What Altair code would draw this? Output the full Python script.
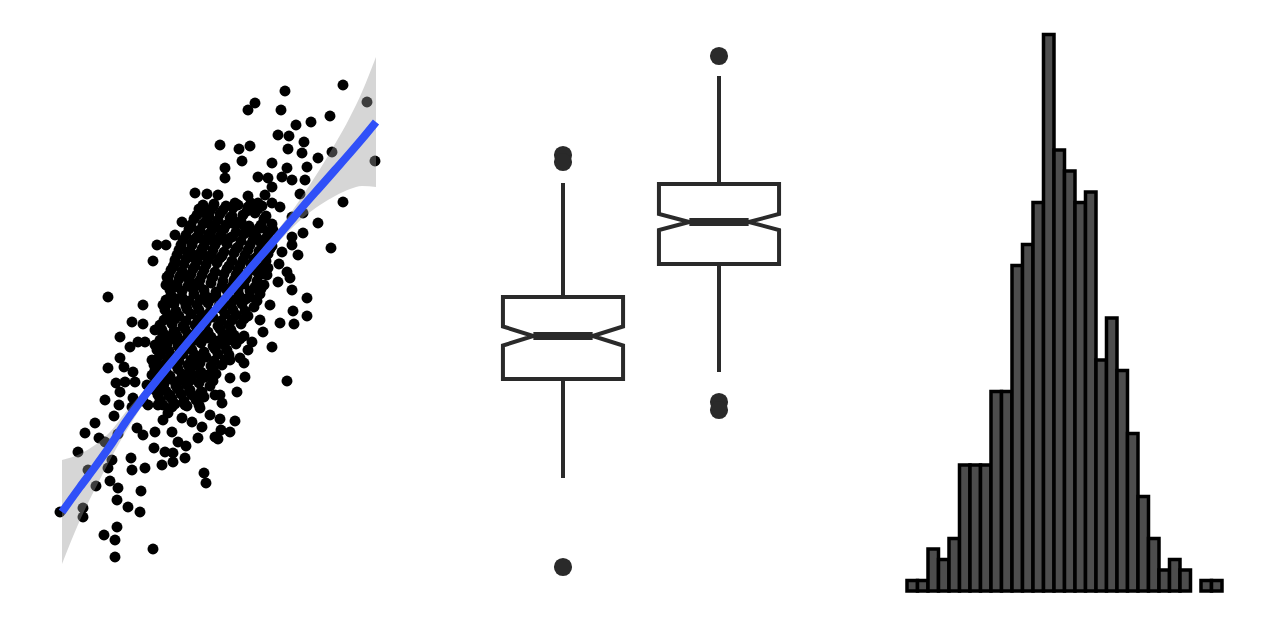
import altair as alt
import pandas as pd

# ---------------- Panel 1: scatter + smoother ----------------
scatter_points = [
    (28.3,51.5),(22.5,50.9),(30.7,49.8),(19.5,49.7),(18.8,49.0),(22.1,49.0),(27.0,48.4),(25.1,47.8),(23.6,47.5),(21.8,46.5),
    (22.9,46.4),(24.4,45.8),(16.0,45.5),(17.9,45.1),(19.0,45.4),(22.8,45.1),(24.2,44.7),(27.2,44.8),(31.5,43.9),(25.8,44.2),
    (18.2,43.9),(21.2,43.7),(16.5,43.2),(16.5,42.2),(22.7,43.2),(24.7,43.3),(19.8,42.3),(20.8,42.2),(22.2,42.3),(23.2,42.0),
    (24.5,42.0),(21.2,41.3),(20.5,40.5),(24.0,40.6),(15.8,40.5),(18.8,40.4),(17.5,39.7),(18.8,39.3),(21.2,39.7),(22.0,39.3),
    (19.8,39.7),(24.3,38.7),(25.8,37.7),(28.3,39.8),(23.2,38.3),(24.3,36.7),(17.2,37.7),(16.2,37.0),(18.5,37.3),(19.2,36.7),
    (20.2,37.2),(21.3,37.0),(23.2,36.3),(16.2,36.2),(13.5,40.7),(14.7,40.6),(14.2,38.8),(15.3,39.3),(12.2,37.8),(14.0,37.0),
    (11.5,36.5),(14.8,37.7),(27.1,35.2),(23.8,34.5),(22.7,32.8),(24.7,30.2),(23.3,28.9),(24.7,28.4),(23.2,31.0),(21.8,31.8),
    (22.0,27.7),(21.2,25.3),(20.3,26.8),(16.8,26.2),(18.8,25.0),(22.7,21.9),(18.5,22.3),(17.0,22.2),(17.0,24.0),(17.7,20.8),
    (16.0,20.5),(16.2,19.7),(16.0,18.1),(17.5,17.9),(16.1,17.0),(15.8,16.1),
    (3.5,17.7),(2.5,16.7),(5.4,18.4),(1.8,14.8),(4.5,15.8),(5.2,14.0),(2.8,13.0),(3.6,11.4),(2.3,9.2),(2.3,8.3),
    (0.0,8.8),(5.8,11.2),(5.7,10.0),(6.8,9.3),(8.0,8.8),(8.1,10.9),(7.1,14.2),(7.2,13.0),(8.5,13.2),(5.7,7.3),
    (4.4,6.5),(5.5,6.0),(5.5,4.3),(9.3,5.1),(7.7,17.2),(8.3,16.5),(9.5,16.8),(10.5,14.8),(11.3,14.7),(11.3,13.8),
    (10.2,13.5),(12.5,14.2),(14.4,12.7),(14.6,11.7),(10.3,18.0),(10.8,18.7),(12.2,18.2),(13.2,17.8),(14.2,17.3),(15.5,16.3),
    (13.8,16.2),(11.8,15.8),(11.2,16.8),(11.2,19.3),(8.8,19.5),(7.2,19.3),(17.0,16.8),
    (9.7,35.5),(9.3,33.9),(4.8,30.3),(8.3,29.5),(7.2,27.8),(8.3,27.6),(9.5,27.0),(10.5,29.3),(7.0,25.3),(7.8,25.8),
    (8.5,25.8),(6.0,24.2),(4.8,23.2),(7.3,22.8),(9.2,24.0),(5.6,21.7),(6.5,21.8),(7.5,21.8),(8.7,21.5),(7.3,20.2),
    (6.0,20.8),(11.3,33.3),(10.7,32.3),(11.5,31.3),(12.7,34.8),(13.2,35.5),(13.3,34.3),(14.3,34.5),(14.0,36.2),(15.2,36.2),
    (12.8,32.2),(12.5,29.8),(10.8,28.3),(11.5,26.8),(10.2,26.8),(10.2,25.2),(11.0,24.2),(9.8,23.3),(9.2,22.5),(10.5,22.5),
    (10.2,21.2),(11.5,21.8),(11.0,20.5),(12.8,22.2),(14.2,20.8),(13.5,23.5),(14.8,22.5),(15.5,20.5),
    (3.9,16.2),(5.8,16.6),(4.8,13.2),(5.0,11.9),(9.4,15.2),(12.6,15.4),(9.8,19.5),(12.5,19.5),(14.0,19.2),(15.0,18.5),
    (13.0,20.8),(6.0,26.3),(6.4,23.3),(4.5,20.0),(5.9,19.5),(8.3,19.9),(10.6,35.5),
    (23.2,35.5),(22.2,34.8),(21.9,33.6),(20.8,33.2),(20.2,32.6),(23.0,32.2),(23.4,27.6),(18.4,23.7),
    (21.0,29.5),(20.0,28.0),(19.2,25.8),(18.0,24.2),
    # dense core
    (14.3,39.5),(15.4,39.6),(16.6,39.4),(17.8,39.5),(19.1,39.7),(20.2,39.4),
    (13.7,38.5),(14.9,38.3),(16.0,38.6),(17.2,38.4),(18.3,38.5),(19.5,38.7),(20.6,38.4),
    (13.1,37.5),(14.3,37.6),(15.5,37.3),(16.6,37.5),(17.8,37.7),(18.9,37.4),(20.1,37.5),(21.2,37.6),
    (12.6,36.5),(13.7,36.3),(14.9,36.6),(16.1,36.5),(17.2,36.3),(18.4,36.6),(19.6,36.4),(20.8,36.5),
    (12.1,35.5),(13.2,35.7),(14.4,35.4),(15.5,35.5),(16.7,35.6),(17.8,35.3),(19.0,35.5),(20.1,35.7),(21.2,35.4),
    (11.7,34.5),(12.8,34.3),(13.9,34.6),(15.1,34.5),(16.2,34.4),(17.4,34.7),(18.5,34.5),(19.7,34.3),(20.8,34.6),
    (11.4,33.5),(12.4,33.6),(13.5,33.4),(14.6,33.5),(15.7,33.7),(16.9,33.4),(18.0,33.5),(19.1,33.6),(20.3,33.3),
    (10.9,32.5),(12.0,32.4),(13.1,32.6),(14.2,32.5),(15.3,32.3),(16.4,32.6),(17.6,32.5),(18.7,32.4),(19.8,32.7),(20.7,32.5),
    (10.6,31.5),(11.7,31.6),(12.8,31.4),(13.9,31.5),(15.1,31.7),(16.2,31.4),(17.3,31.5),(18.4,31.6),(19.5,31.3),(20.4,31.5),
    (11.1,30.5),(12.2,30.3),(13.4,30.6),(14.5,30.5),(15.6,30.4),(16.8,30.7),(17.9,30.5),(19.0,30.3),(20.0,30.6),
    (10.3,29.5),(11.4,29.6),(12.6,29.4),(13.7,29.5),(14.8,29.7),(15.9,29.4),(17.1,29.5),(18.2,29.6),(19.4,29.3),
    (10.8,28.5),(11.9,28.4),(13.1,28.6),(14.2,28.5),(15.3,28.3),(16.5,28.6),(17.6,28.5),(18.8,28.4),
    (10.0,27.5),(11.2,27.6),(12.3,27.4),(13.5,27.5),(14.6,27.7),(15.8,27.4),(16.9,27.5),(18.1,27.6),
    (10.5,26.5),(11.7,26.4),(12.8,26.6),(14.0,26.5),(15.1,26.3),(16.3,26.6),(17.4,26.5),(18.4,26.4),
    (9.5,25.5),(10.7,25.6),(11.8,25.4),(13.0,25.5),(14.1,25.7),(15.3,25.4),(16.4,25.5),(17.6,25.6),
    (10.0,24.5),(11.2,24.4),(12.3,24.6),(13.5,24.5),(14.6,24.3),(15.8,24.6),(16.9,24.5),
    (9.4,23.5),(10.5,23.6),(11.7,23.4),(12.8,23.5),(14.0,23.7),(15.1,23.4),(16.2,23.5),
    (9.9,22.5),(11.0,22.4),(12.2,22.6),(13.3,22.5),(14.5,22.3),(15.6,22.6),
    (9.3,21.5),(10.4,21.6),(11.6,21.4),(12.7,21.5),(13.9,21.7),(15.0,21.4),
    (9.8,20.5),(10.9,20.4),(12.1,20.6),(13.2,20.5),(14.4,20.3),
    (10.3,19.5),(11.5,19.6),(12.7,19.4),(13.9,19.5),
    # in-between core points
    (13.9,39.1),(15.0,38.9),(16.3,39.0),(17.3,39.2),(18.7,38.9),(19.8,39.1),
    (13.4,38.1),(14.6,37.9),(15.8,38.0),(17.0,38.2),(18.1,37.9),(20.4,38.1),
    (12.9,37.1),(13.9,36.9),(15.2,37.0),(16.4,37.1),(17.6,36.8),(18.7,37.0),(19.9,37.2),(21.0,36.9),
    (12.3,36.0),(13.5,36.1),(14.6,35.9),(15.9,36.0),(17.0,36.2),(18.1,35.9),(19.3,36.0),(20.5,36.1),
    (11.9,35.0),(13.0,34.9),(14.2,35.1),(15.3,35.0),(16.4,34.8),(17.6,35.1),(18.8,35.0),(19.9,34.9),(21.0,35.1),
    (11.5,34.0),(12.6,34.1),(13.7,33.9),(14.8,34.0),(16.0,34.2),(17.2,33.9),(18.3,34.0),(19.4,34.1),(20.6,33.9),
    (11.1,33.0),(12.2,32.9),(13.3,33.1),(14.4,33.0),(15.5,32.8),(16.7,33.1),(17.8,33.0),(18.9,32.9),(20.0,33.1),
    (10.8,32.0),(11.9,32.1),(13.0,31.9),(14.0,32.0),(15.2,32.2),(16.3,31.9),(17.4,32.0),(18.6,32.1),(19.7,31.9),
    (11.0,31.0),(12.2,30.9),(13.3,31.1),(14.4,31.0),(15.6,30.8),(16.6,31.1),(17.8,31.0),(19.0,30.9),(20.1,31.1),
    (10.6,30.0),(11.7,30.1),(12.9,29.9),(14.0,30.0),(15.2,30.2),(16.3,29.9),(17.4,30.0),(18.6,30.1),(19.7,29.9),
    (10.5,29.0),(11.6,28.9),(12.7,29.1),(13.9,29.0),(15.0,28.8),(16.2,29.1),(17.3,29.0),(18.5,28.9),
    (10.4,28.0),(11.5,28.1),(12.6,27.9),(13.8,28.0),(14.9,28.2),(16.1,27.9),(17.2,28.0),(18.4,28.1),
    (10.2,27.0),(11.4,26.9),(12.5,27.1),(13.7,27.0),(14.8,26.8),(16.0,27.1),(17.1,27.0),
    (10.0,26.0),(11.2,26.1),(12.3,25.9),(13.5,26.0),(14.7,26.2),(15.8,25.9),(16.9,26.0),(18.0,26.1),
    (9.7,25.0),(10.9,24.9),(12.0,25.1),(13.2,25.0),(14.4,24.8),(15.5,25.1),(16.7,25.0),
    (9.6,24.0),(10.8,24.1),(11.9,23.9),(13.1,24.0),(14.2,24.2),(15.4,23.9),(16.5,24.0),
    (9.5,23.0),(10.6,22.9),(11.8,23.1),(13.0,23.0),(14.1,22.8),(15.3,23.1),
    (9.6,22.0),(10.8,22.1),(11.9,21.9),(13.1,22.0),(14.2,22.2),(15.3,21.9),
    (9.5,21.0),(10.6,20.9),(11.8,21.1),(13.0,21.0),(14.1,20.8),
    (10.0,20.0),(11.2,20.1),(12.4,19.9),(13.6,20.0),
]

smooth_x  = [0.2, 2.0, 3.5, 5.0, 6.5, 8.0, 12.0, 16.0, 20.0, 23.0, 24.5, 26.0, 27.5, 29.0, 30.2, 31.6]
smooth_y  = [8.8, 11.3, 13.3, 15.4, 17.7, 19.8, 24.8, 29.6, 34.3, 37.8, 39.6, 41.3, 43.0, 44.7, 46.1, 47.8]
smooth_lo = [3.6, 8.0, 11.1, 14.0, 16.7, 19.1, 24.2, 29.1, 33.7, 37.0, 38.4, 39.5, 40.4, 41.1, 41.4, 41.3]
smooth_hi = [14.0, 14.6, 15.5, 16.8, 18.7, 20.5, 25.4, 30.1, 34.9, 38.6, 40.8, 43.1, 45.6, 48.3, 50.8, 54.3]

# ---------------- Panel 2: notched boxplots ----------------
box_pos   = [1, 2]
box_q1    = [2.21, 3.36]
box_q3    = [3.03, 4.16]
box_med   = [2.64, 3.78]
box_notch = [0.095, 0.08]
whisk_lo  = [1.22, 2.28]
whisk_hi  = [4.17, 5.24]
outlier_box = [1, 1, 1, 2, 2, 2]
outlier_val = [4.45, 4.38, 0.33, 5.44, 1.98, 1.90]

# ---------------- Panel 3: histogram ----------------
hist_counts = [1, 1, 4, 3, 5, 12, 12, 12, 19, 19, 31, 33, 37, 53, 42,
               40, 37, 38, 22, 26, 21, 15, 9, 5, 2, 3, 2, 0, 1, 1]
hist_start = -3.5
hist_binw = 0.25

# ---------------- Build charts ----------------
scatter_df = pd.DataFrame(scatter_points, columns=["x", "y"])
smooth_df = pd.DataFrame({"x": smooth_x, "y": smooth_y, "lo": smooth_lo, "hi": smooth_hi})

sx = alt.Scale(domain=[-6.0, 36.7], nice=False, zero=False)
sy = alt.Scale(domain=[-4.0, 60.0], nice=False, zero=False)

pts = alt.Chart(scatter_df).mark_circle(size=120, color="black", opacity=1).encode(
    x=alt.X("x:Q", scale=sx, axis=None),
    y=alt.Y("y:Q", scale=sy, axis=None),
)
band = alt.Chart(smooth_df).mark_area(color="#999999", opacity=0.4, interpolate="monotone").encode(
    x=alt.X("x:Q", scale=sx, axis=None),
    y=alt.Y("lo:Q", scale=sy, axis=None),
    y2="hi:Q",
)
line = alt.Chart(smooth_df).mark_line(color="#3050F8", strokeWidth=8, interpolate="monotone", strokeCap="butt").encode(
    x=alt.X("x:Q", scale=sx, axis=None),
    y=alt.Y("y:Q", scale=sy, axis=None),
)
p1 = alt.layer(pts, band, line).properties(width=427, height=640)

# box outline polygons
half_w = 0.385
inner_w = 0.19
rows = []
for b, c, a, t, m, n in zip([0, 1], box_pos, box_q1, box_q3, box_med, box_notch):
    verts = [(c, t), (c + half_w, t), (c + half_w, m + n), (c + inner_w, m), (c + half_w, m - n),
             (c + half_w, a), (c - half_w, a), (c - half_w, m - n), (c - inner_w, m), (c - half_w, m + n),
             (c - half_w, t), (c, t)]
    for k, (vx, vy) in enumerate(verts):
        rows.append({"box": b, "k": k, "x": vx, "y": vy})
poly_df = pd.DataFrame(rows)

box_df = pd.DataFrame({
    "pos": box_pos, "q1": box_q1, "q3": box_q3, "med": box_med,
    "lo": whisk_lo, "hi": whisk_hi,
    "ml": [p - inner_w for p in box_pos], "mr": [p + inner_w for p in box_pos],
})
out_df = pd.DataFrame({"pos": outlier_box, "val": outlier_val})

bx = alt.Scale(domain=[0.1282, 2.859], nice=False, zero=False)
by = alt.Scale(domain=[-0.4, 6.0], nice=False, zero=False)
BOXC = "#2a2a2a"

outline = alt.Chart(poly_df).mark_line(color=BOXC, strokeWidth=4, strokeJoin="miter").encode(
    x=alt.X("x:Q", scale=bx, axis=None),
    y=alt.Y("y:Q", scale=by, axis=None),
    detail="box:N",
    order="k:Q",
)
wh_up = alt.Chart(box_df).mark_rule(color=BOXC, strokeWidth=4).encode(
    x=alt.X("pos:Q", scale=bx, axis=None),
    y=alt.Y("q3:Q", scale=by, axis=None),
    y2="hi:Q",
)
wh_dn = alt.Chart(box_df).mark_rule(color=BOXC, strokeWidth=4).encode(
    x=alt.X("pos:Q", scale=bx, axis=None),
    y=alt.Y("lo:Q", scale=by, axis=None),
    y2="q1:Q",
)
median = alt.Chart(box_df).mark_rule(color=BOXC, strokeWidth=8, strokeCap="butt").encode(
    x=alt.X("ml:Q", scale=bx, axis=None),
    x2="mr:Q",
    y=alt.Y("med:Q", scale=by, axis=None),
)
outl = alt.Chart(out_df).mark_circle(size=330, color=BOXC, opacity=1).encode(
    x=alt.X("pos:Q", scale=bx, axis=None),
    y=alt.Y("val:Q", scale=by, axis=None),
)
p2 = alt.layer(wh_up, wh_dn, outline, median, outl).properties(width=426, height=640)

hist_df = pd.DataFrame({
    "lo": [hist_start + hist_binw * i for i in range(len(hist_counts))],
    "hi": [hist_start + hist_binw * (i + 1) for i in range(len(hist_counts))],
    "count": hist_counts,
})
hist_df["zero"] = 0
hist_df = hist_df[hist_df["count"] > 0]

hx = alt.Scale(domain=[-4.7857, 5.381], nice=False, zero=False)
hy = alt.Scale(domain=[-4.667, 56.286], nice=False, zero=False)
p3 = alt.Chart(hist_df).mark_rect(fill="#4d4d4d", stroke="black", strokeWidth=3.5).encode(
    x=alt.X("lo:Q", scale=hx, axis=None),
    x2="hi:Q",
    y=alt.Y("zero:Q", scale=hy, axis=None),
    y2="count:Q",
).properties(width=427, height=640)

chart = alt.hconcat(p1, p2, p3, spacing=0).properties(padding=0, background="white").configure_view(stroke=None)

chart.save("out.html", embed_options={"renderer": "svg", "actions": False})
